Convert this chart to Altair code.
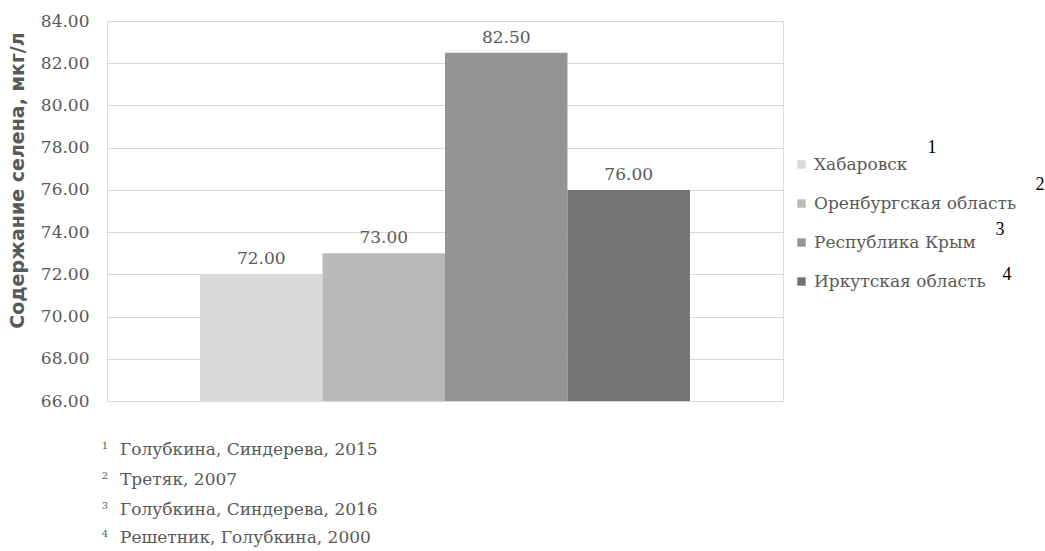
import altair as alt
import pandas as pd

regions = ["Хабаровск", "Оренбургская область", "Республика Крым", "Иркутская область"]
values = [72.00, 73.00, 82.50, 76.00]
colors = ["#d9d9d9", "#bababa", "#949494", "#737373"]
sup_marks = ["1", "2", "3", "4"]
refs = ["Голубкина, Синдерева, 2015", "Третяк, 2007",
        "Голубкина, Синдерева, 2016", "Решетник, Голубкина, 2000"]
y_ticks = [66, 68, 70, 72, 74, 76, 78, 80, 82, 84]

df = pd.DataFrame({"region": regions, "value": values})

SERIF = "DejaVu Serif"
GRAY = "#595959"

base = alt.Chart(df)

bars = base.mark_bar().encode(
    x=alt.X("region:N", sort=regions,
            scale=alt.Scale(paddingInner=0, paddingOuter=0.76),
            axis=alt.Axis(labels=False, ticks=False, title=None,
                          domainColor="#d9d9d9", grid=False)),
    y=alt.Y("value:Q", scale=alt.Scale(domain=[66, 84], nice=False, zero=False),
            axis=alt.Axis(values=y_ticks, format=".2f", title="Содержание селена, мкг/л",
                          labelFont=SERIF, labelFontSize=17, labelColor=GRAY,
                          labelPadding=18, ticks=False, domainColor="#d9d9d9",
                          gridColor="#d9d9d9", titleFont="DejaVu Sans",
                          titleFontSize=19, titleFontWeight="bold", titleColor=GRAY,
                          titleX=-80, titleY=159, titleAngle=-90)),
    y2=alt.datum(66),
    color=alt.Color("region:N", sort=regions,
                    scale=alt.Scale(domain=regions, range=colors),
                    legend=alt.Legend(title=None, orient="none", legendX=686, legendY=135,
                                      symbolType="square", symbolSize=70,
                                      symbolStrokeWidth=0, labelFont=SERIF,
                                      labelFontSize=17, labelColor=GRAY,
                                      rowPadding=21, labelLimit=300)),
)

labels = base.mark_text(dy=-15, font=SERIF, fontSize=17, color=GRAY).encode(
    x=alt.X("region:N", sort=regions),
    y=alt.Y("value:Q"),
    text=alt.Text("value:Q", format=".2f"),
)

layers = [bars, labels]

# superscript markers next to legend entries
sup_pos = [(825, 127), (933, 164), (893, 209), (900, 254)]
for s, (px, py) in zip(sup_marks, sup_pos):
    layers.append(
        alt.Chart(pd.DataFrame({"t": [s]})).mark_text(
            font="Liberation Serif", fontSize=18, color="#000000", align="center",
            baseline="middle"
        ).encode(x=alt.value(px), y=alt.value(py), text="t:N")
    )

# footnotes below the chart
foot_y = [429, 459, 489, 517]
for s, r, fy in zip(sup_marks, refs, foot_y):
    layers.append(
        alt.Chart(pd.DataFrame({"t": [s]})).mark_text(
            font=SERIF, fontSize=10, color=GRAY, align="center", baseline="middle"
        ).encode(x=alt.value(-2), y=alt.value(fy - 4), text="t:N")
    )
    layers.append(
        alt.Chart(pd.DataFrame({"t": [r]})).mark_text(
            font=SERIF, fontSize=17, color=GRAY, align="left", baseline="middle"
        ).encode(x=alt.value(13), y=alt.value(fy), text="t:N")
    )

chart = alt.layer(*layers).properties(
    width=676, height=380,
    autosize=alt.AutoSizeParams(type="none"),
    padding={"left": 107, "top": 21, "right": 262, "bottom": 150},
).configure_view(stroke=None).configure(background="white")

chart.save("out.html", embed_options={"renderer": "svg", "actions": False})
